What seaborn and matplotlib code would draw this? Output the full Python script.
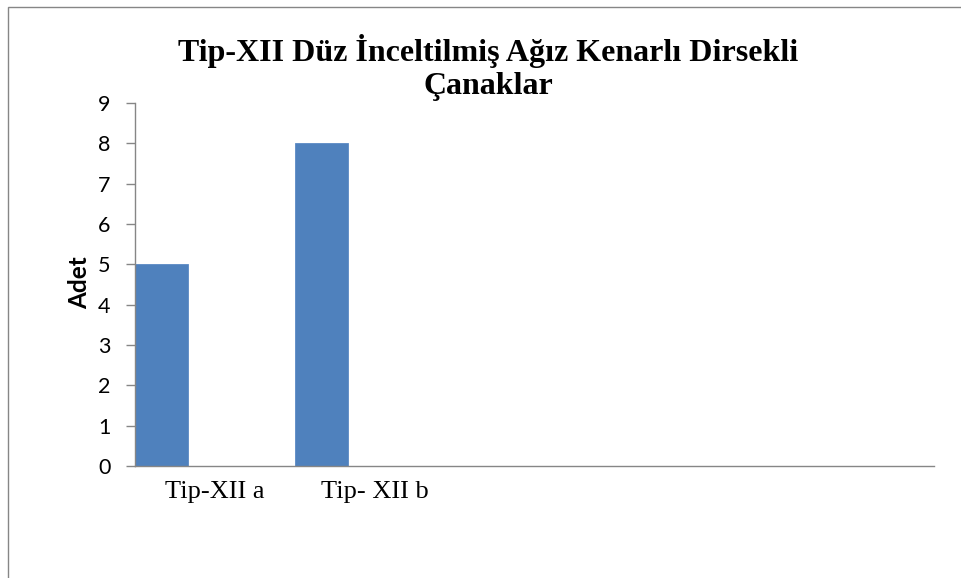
import matplotlib
matplotlib.use("Agg")
import matplotlib.pyplot as plt
from matplotlib.patches import Rectangle
import pandas as pd
import seaborn as sns

# Chart data
categories = ["Tip-XII a", "Tip- XII b"]
counts = [5, 8]
series_names = ["Seri 1", "Seri 2", "Seri 3"]
empty_slots = [" ", "  ", "   "]
y_ticks = list(range(0, 10))

title = "Tip-XII Düz İnceltilmiş Ağız Kenarlı Dirsekli\nÇanaklar"
y_label = "Adet"

df = pd.DataFrame({
    "kategori": categories,
    "adet": counts,
    "seri": [series_names[0]] * len(categories),
})

sns.set_style("white")
plt.rcParams["font.family"] = ["Lato", "DejaVu Sans"]
plt.rcParams["text.color"] = "black"
plt.rcParams["axes.labelcolor"] = "black"

W, H = 962, 578
fig = plt.figure(figsize=(W / 100, H / 100), dpi=100)
ax = fig.add_axes([135 / W, 1 - 466 / H, (934 - 135) / W, (466 - 103) / H])

sns.barplot(
    data=df, x="kategori", y="adet", hue="seri",
    order=categories + empty_slots, hue_order=series_names,
    palette=["#4F81BD", "#C0504D", "#9BBB59"], saturation=1,
    width=1.0, dodge=True, legend=False,
    edgecolor="#5B8AC4", linewidth=0.6, ax=ax,
)

ax.set_xlim(-0.5, len(categories) + len(empty_slots) - 0.5)
ax.set_ylim(0, 9)
ax.set_yticks(y_ticks)
ax.set_xlabel("")
ax.set_ylabel(y_label, fontsize=17.5, fontweight="bold")
ax.yaxis.set_label_coords(-0.055, 0.504)

for s in ["top", "right"]:
    ax.spines[s].set_visible(False)
for s in ["left", "bottom"]:
    ax.spines[s].set_color("#868686")
    ax.spines[s].set_linewidth(1.0)

ax.tick_params(axis="y", direction="out", length=6.5, width=1.0,
               color="#868686", labelcolor="black", labelsize=15.5,
               pad=11, left=True)
ax.tick_params(axis="x", length=0, pad=11, labelcolor="black")
for lbl in ax.get_xticklabels():
    lbl.set_fontfamily(["Liberation Serif", "DejaVu Serif"])
    lbl.set_fontsize(19)

fig.text(488 / W, 1 - 67.5 / H, title, ha="center", va="center",
         fontsize=23, fontweight="bold", color="black",
         family=["Liberation Serif", "DejaVu Serif"], linespacing=1.19)

# chart area border
fig.add_artist(Rectangle((8 / W, -0.1), 1.2, 1 - 7 / H + 0.1,
                         transform=fig.transFigure, fill=False,
                         edgecolor="#868686", linewidth=1.0))

fig.savefig("out.png", dpi=100)
